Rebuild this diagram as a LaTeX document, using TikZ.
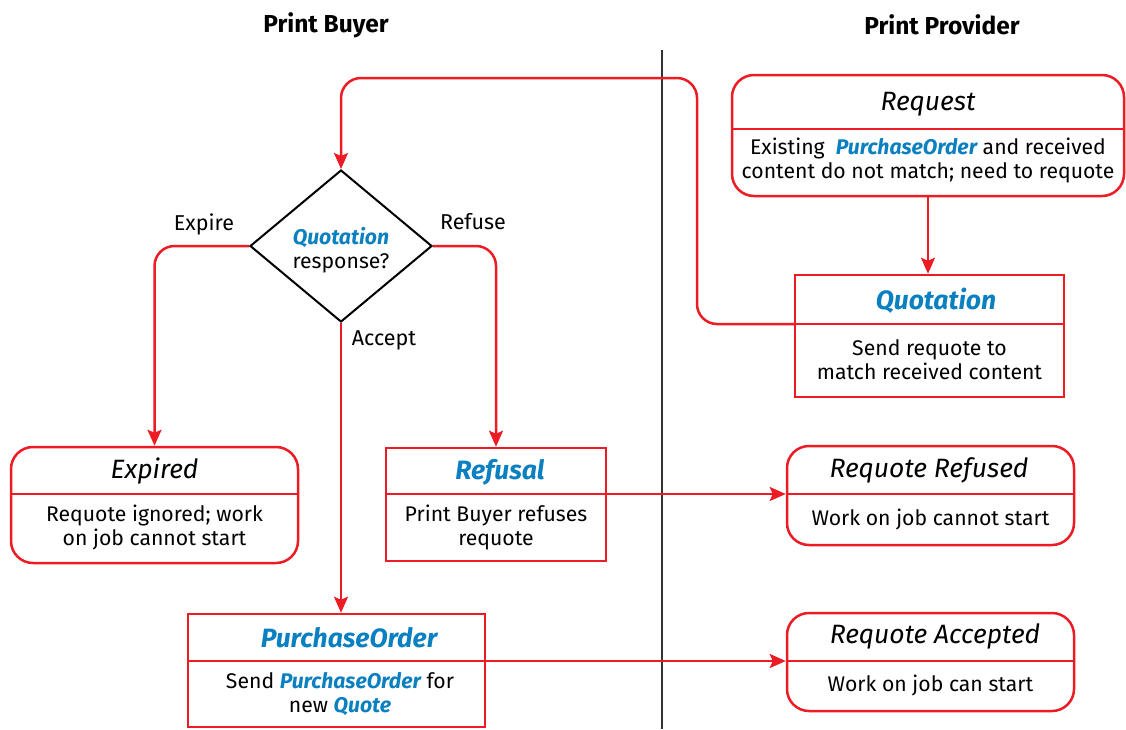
\documentclass[tikz,border=0pt]{standalone}
\usepackage{fontspec}
\setmainfont{Fira Sans}
\usetikzlibrary{arrows.meta,shapes.geometric,calc}
\definecolor{flowred}{HTML}{ED1C24}
\definecolor{termblue}{HTML}{0A80C0}
\definecolor{lanegray}{HTML}{333333}
\newcommand{\qterm}[1]{\textcolor{termblue}{\bfseries\itshape #1}}
\tikzset{box/.style={draw=flowred, line width=2.5pt, inner sep=0pt},
  rbox/.style={box, rounded corners=22pt},
  sepline/.style={draw=flowred, line width=2.5pt},
  flow/.style={draw=flowred, line width=2.5pt, rounded corners=20pt, -{Stealth[length=16pt,width=14pt,inset=3pt]}},
  hdr/.style={font=\fontsize{26.5}{30}\selectfont\itshape, inner sep=0pt},
  txt/.style={font=\fontsize{21.2}{24}\selectfont, align=center, inner sep=0pt},
  lane/.style={font=\fontsize{24.5}{28}\selectfont\bfseries, inner sep=0pt},
  lbl/.style={font=\fontsize{21.5}{24}\selectfont, inner sep=0pt}}

\begin{document}
\begin{tikzpicture}[x=1pt,y=-1pt]
\useasboundingbox (0,0) rectangle (1126,729);

% lanes
\node[lane] (buyer) at (326,25) {Print Buyer};
\node[lane] (provider) at (942,25) {Print Provider};
\coordinate (laneTop) at (662,50);
\coordinate (laneBot) at (662,729);
\draw[lanegray, line width=2.5pt] (laneTop)--(laneBot);

% decision
\node[diamond, draw=black, line width=2pt, minimum width=182pt, minimum height=152pt, inner sep=0pt] (dec) at (341,246) {};
\node[txt] (decT) at (341,250) {\qterm{Quotation}\\response?};

% provider boxes
\node[rbox, minimum width=392pt, minimum height=121pt] (req) at (928,135.5) {};
\draw[sepline] (req.west |- 0,129) -- (req.east |- 0,129);
\node[hdr] (reqT) at (928,104) {Request};
\node[txt] (reqB) at (928,160) {Existing \ \qterm{PurchaseOrder} and received\\content do not match; need to requote};

\node[box, minimum width=269pt, minimum height=122pt] (quot) at (929.5,336) {};
\coordinate (quotW) at (quot.west |- 0,324);
\draw[sepline] (quotW) -- (quot.east |- 0,324);
\node[hdr] (quotT) at (936,301) {\qterm{Quotation}};
\node[txt] (quotB) at (929.5,360) {Send requote to\\match received content};

\node[rbox, minimum width=287pt, minimum height=99pt] (refd) at (930.5,495.5) {};
\coordinate (refdW) at (refd.west |- 0,494);
\draw[sepline] (refdW) -- (refd.east |- 0,494);
\node[hdr] (refdT) at (929,470) {Requote Refused};
\node[txt] (refdB) at (930.5,519) {Work on job cannot start};

\node[rbox, minimum width=287pt, minimum height=98pt] (accd) at (930.5,662) {};
\coordinate (accdW) at (accd.west |- 0,661);
\draw[sepline] (accdW) -- (accd.east |- 0,661);
\node[hdr] (accdT) at (935,636) {Requote Accepted};
\node[txt] (accdB) at (930.5,685) {Work on job can start};

% buyer boxes
\node[rbox, minimum width=287pt, minimum height=116pt] (exp) at (154.5,505) {};
\draw[sepline] (exp.west |- 0,494) -- (exp.east |- 0,494);
\node[hdr] (expT) at (154.5,471) {Expired};
\node[txt] (expB) at (154.5,527) {Requote ignored; work\\on job cannot start};

\node[box, minimum width=220pt, minimum height=113pt] (refu) at (496,504.5) {};
\coordinate (refuE) at (refu.east |- 0,494);
\draw[sepline] (refu.west |- 0,494) -- (refuE);
\node[hdr] (refuT) at (500,472) {\qterm{Refusal}};
\node[txt] (refuB) at (496,527) {Print Buyer refuses\\requote};

\node[box, minimum width=297pt, minimum height=113pt] (po) at (336.5,670.5) {};
\coordinate (poE) at (po.east |- 0,661);
\draw[sepline] (po.west |- 0,661) -- (poE);
\node[hdr] (poT) at (349,638) {\qterm{PurchaseOrder}};
\node[txt] (poB) at (340,694) {Send \qterm{PurchaseOrder} for\\new \qterm{Quote}};

% connectors
\coordinate (loopR) at (697,78);
\coordinate (loopL) at (341,78);
\draw[flow] (quotW) -| (loopR) -- (loopL) -- (dec.north);
\draw[flow] (req.south) -- (req.south |- quot.north);
\draw[flow] (dec.west) -| (exp.north);
\draw[flow] (dec.east) -| (refu.north);
\draw[flow] (dec.south) -- (dec.south |- po.north);
\draw[flow] (refuE) -- (refdW);
\draw[flow] (poE) -- (accdW);

% labels
\node[lbl] (lblExp) at (204,224) {Expire};
\node[lbl] (lblRef) at (473,222) {Refuse};
\node[lbl] (lblAcc) at (384,340) {Accept};
\end{tikzpicture}
\end{document}
